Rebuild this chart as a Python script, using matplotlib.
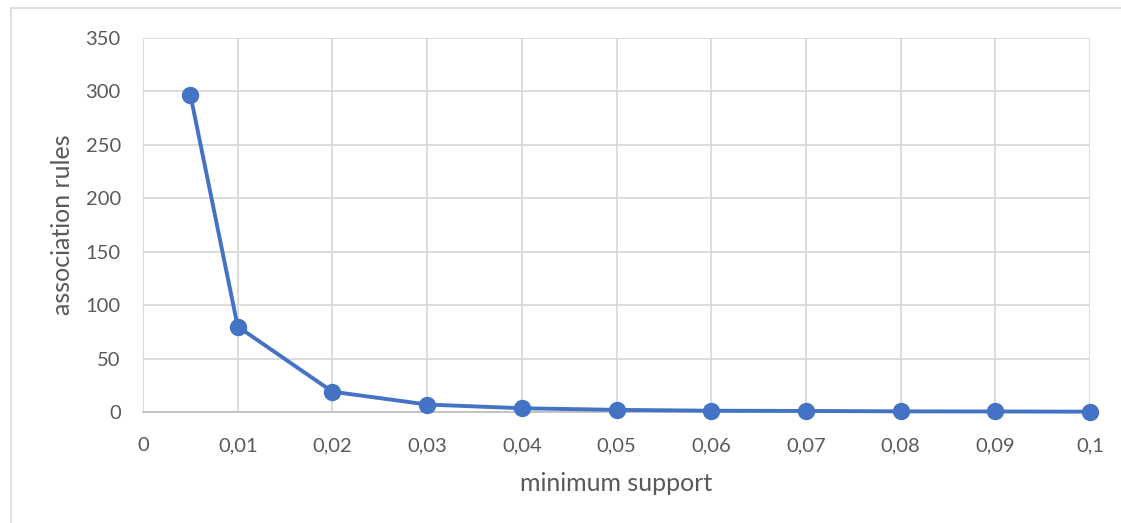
import matplotlib
matplotlib.use("Agg")
import matplotlib.pyplot as plt
from matplotlib.lines import Line2D
from matplotlib.ticker import FuncFormatter, MultipleLocator

# minimum support thresholds and resulting number of association rules
min_support = [0.005, 0.01, 0.02, 0.03, 0.04, 0.05, 0.06, 0.07, 0.08, 0.09, 0.1]
rule_counts = [297, 80, 19, 7, 3.5, 2, 1.2, 1, 0.6, 0.5, 0.3]

x_label = "minimum support"
y_label = "association rules"

plt.rcParams['font.family'] = ['Lato', 'DejaVu Sans']
text_color = "#595959"
grid_color = "#D9D9D9"
line_color = "#4472C4"

W, H = 1121, 523
fig = plt.figure(figsize=(W / 100, H / 100), dpi=100)
ax = fig.add_axes([143 / W, 1 - 412 / H, (1090 - 143) / W, (412 - 38) / H])

ax.plot(min_support, rule_counts, color=line_color, linewidth=2.8,
        marker="o", markersize=11.5, zorder=3, clip_on=False)

ax.set_xlim(0, 0.1)
ax.set_ylim(0, 350)
ax.xaxis.set_major_locator(MultipleLocator(0.01))
ax.yaxis.set_major_locator(MultipleLocator(50))


def comma_fmt(v, pos):
    if abs(v) < 1e-12:
        return "0"
    s = f"{v:.2f}".rstrip("0").rstrip(".")
    return s.replace(".", ",")


ax.xaxis.set_major_formatter(FuncFormatter(comma_fmt))
ax.yaxis.set_major_formatter(FuncFormatter(lambda v, p: f"{int(v)}"))

ax.grid(True, color=grid_color, linewidth=1.3)
ax.set_axisbelow(True)
for side in ("top", "right", "left"):
    ax.spines[side].set_visible(False)
ax.spines["bottom"].set_color("#BFBFBF")
ax.spines["bottom"].set_linewidth(1.3)

ax.tick_params(axis="both", length=0, colors=text_color, labelsize=14.5)
ax.tick_params(axis="x", pad=18)
ax.tick_params(axis="y", pad=16)

ax.set_xlabel(x_label, color=text_color, fontsize=18, labelpad=13)
ax.set_ylabel(y_label, color=text_color, fontsize=18, labelpad=8)

# light chart-area frame
fig.add_artist(Line2D([11 / W, 1], [1 - 8 / H, 1 - 8 / H], transform=fig.transFigure,
                      color=grid_color, linewidth=1.2))
fig.add_artist(Line2D([11 / W, 11 / W], [0, 1 - 8 / H], transform=fig.transFigure,
                      color=grid_color, linewidth=1.2))

fig.savefig("out.png", dpi=100, facecolor="white")
